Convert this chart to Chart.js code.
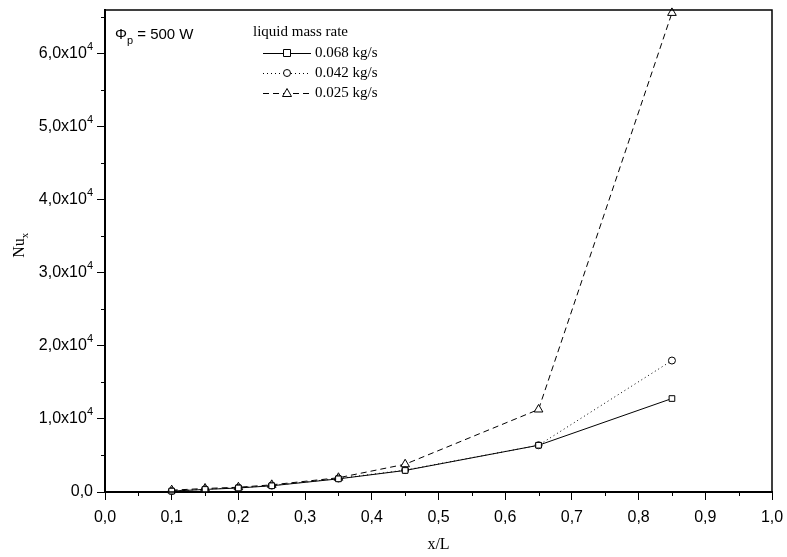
<!DOCTYPE html>
<html>
<head>
<meta charset="utf-8">
<script src="https://cdn.jsdelivr.net/npm/chart.js@4/dist/chart.umd.min.js"></script>
<style>
  html, body { margin: 0; padding: 0; background: #fff; }
  #wrap { width: 787px; height: 557px; }
</style>
</head>
<body>
<div id="wrap"><canvas id="myChart" width="787" height="557"></canvas></div>
<script>
// x/L positions
const xPos = [0.1, 0.15, 0.2, 0.25, 0.35, 0.45, 0.65, 0.85];
// Nu_x for each liquid mass rate
const nu068 = [120, 350, 550, 850, 1800, 2950, 6400, 12800];
const nu042 = [130, 380, 580, 880, 1850, 3000, 6400, 18000];
const nu025 = [250, 480, 650, 980, 1950, 3800, 11300, 65600];
const seriesLabels = ["0.068 kg/s", "0.042 kg/s", "0.025 kg/s"];
const legendTitle = "liquid mass rate";
const powerLabel = "500 W";
// y tick labels (mantissa of x10^4)
const yTickVals = [0, 10000, 20000, 30000, 40000, 50000, 60000];
const yTickText = ["0,0", "1,0", "2,0", "3,0", "4,0", "5,0", "6,0"];

const toPoints = (ys) => xPos.map((x, i) => ({ x: x, y: ys[i] }));
const comma = (v) => v.toFixed(1).replace(".", ",");

const sansFont = "'Liberation Sans', Arial, sans-serif";
const serifFont = "'Liberation Serif', 'Times New Roman', serif";

function drawMarker(ctx, style, x, y) {
  ctx.save();
  ctx.fillStyle = "#fff";
  ctx.strokeStyle = "#000";
  ctx.lineWidth = 1;
  ctx.setLineDash([]);
  ctx.beginPath();
  if (style === "rect") {
    ctx.rect(x - 3.5, y - 3.5, 7, 7);
  } else if (style === "circle") {
    ctx.arc(x, y, 3.5, 0, Math.PI * 2);
  } else {
    ctx.moveTo(x, y - 4.5);
    ctx.lineTo(x + 4.5, y + 3.5);
    ctx.lineTo(x - 4.5, y + 3.5);
    ctx.closePath();
  }
  ctx.fill();
  ctx.stroke();
  ctx.restore();
}

const extras = {
  id: "extras",
  afterDraw(chart) {
    const ctx = chart.ctx;
    const a = chart.chartArea;
    const xs = chart.scales.x;
    const ys = chart.scales.y;
    ctx.save();

    // frame
    ctx.strokeStyle = "#000";
    ctx.lineWidth = 1.5;
    ctx.strokeRect(a.left, a.top, a.right - a.left, a.bottom - a.top);

    // minor ticks
    ctx.lineWidth = 1;
    ctx.beginPath();
    for (let v = 0.05; v < 1; v += 0.1) {
      const px = Math.round(xs.getPixelForValue(v)) + 0.5;
      ctx.moveTo(px, a.bottom);
      ctx.lineTo(px, a.bottom + 4);
    }
    for (let v = 5000; v < ys.max; v += 10000) {
      const py = Math.round(ys.getPixelForValue(v)) + 0.5;
      ctx.moveTo(a.left, py);
      ctx.lineTo(a.left - 4, py);
    }
    ctx.stroke();

    // y tick labels with superscript
    ctx.fillStyle = "#000";
    ctx.textBaseline = "middle";
    ctx.textAlign = "right";
    yTickVals.forEach((v, i) => {
      const py = ys.getPixelForValue(v);
      const right = a.left - 12;
      if (v === 0) {
        ctx.font = "16px " + sansFont;
        ctx.fillText(yTickText[i], right, py);
        return;
      }
      ctx.font = "11px " + sansFont;
      const expW = ctx.measureText("4").width;
      ctx.fillText("4", right, py - 7);
      ctx.font = "16px " + sansFont;
      ctx.fillText(yTickText[i] + "x10", right - expW, py);
    });

    // axis titles
    ctx.textAlign = "center";
    ctx.font = "16px " + serifFont;
    ctx.fillText("x/L", (a.left + a.right) / 2, 545);

    ctx.save();
    ctx.translate(20, 245);
    ctx.rotate(-Math.PI / 2);
    ctx.textAlign = "left";
    ctx.font = "16px " + serifFont;
    const nuW = ctx.measureText("Nu").width;
    const subW = 6;
    ctx.fillText("Nu", -(nuW + subW) / 2, 0);
    ctx.font = "11px " + serifFont;
    ctx.fillText("x", -(nuW + subW) / 2 + nuW, 5);
    ctx.restore();

    // power annotation
    ctx.textAlign = "left";
    ctx.font = "15px " + sansFont;
    ctx.fillText("\u03A6", 115, 35);
    let px = 115 + ctx.measureText("\u03A6").width;
    ctx.font = "11px " + sansFont;
    ctx.fillText("p", px, 41);
    px += ctx.measureText("p").width;
    ctx.font = "15px " + sansFont;
    ctx.fillText(" = " + powerLabel, px, 35);

    // legend
    ctx.font = "15px " + serifFont;
    ctx.fillText(legendTitle, 253, 32);
    const styles = ["rect", "circle", "triangle"];
    const dashes = [[], [1, 3], [6, 4]];
    seriesLabels.forEach((lab, i) => {
      const ly = 53 + i * 20;
      ctx.save();
      ctx.strokeStyle = "#000";
      ctx.lineWidth = 1;
      ctx.setLineDash(dashes[i]);
      ctx.beginPath();
      ctx.moveTo(263, ly + 0.5);
      ctx.lineTo(311, ly + 0.5);
      ctx.stroke();
      ctx.restore();
      drawMarker(ctx, styles[i], 287, ly);
      ctx.fillStyle = "#000";
      ctx.font = "15px " + serifFont;
      ctx.textAlign = "left";
      ctx.fillText(lab, 315, ly);
    });

    ctx.restore();
  }
};

const common = {
  borderColor: "#000",
  borderWidth: 1,
  pointBackgroundColor: "#fff",
  pointBorderColor: "#000",
  pointBorderWidth: 1,
  tension: 0,
  fill: false,
  clip: false
};

new Chart(document.getElementById("myChart").getContext("2d"), {
  type: "line",
  data: {
    datasets: [
      Object.assign({}, common, { label: seriesLabels[0], data: toPoints(nu068), pointStyle: "rect", pointRadius: 4 }),
      Object.assign({}, common, { label: seriesLabels[1], data: toPoints(nu042), pointStyle: "circle", pointRadius: 3.5, borderDash: [1, 3] }),
      Object.assign({}, common, { label: seriesLabels[2], data: toPoints(nu025), pointStyle: "triangle", pointRadius: 5, borderDash: [6, 4] })
    ]
  },
  plugins: [extras],
  options: {
    responsive: false,
    animation: false,
    layout: { padding: { top: 10, right: 15, left: 0, bottom: 0 } },
    plugins: { legend: { display: false }, tooltip: { enabled: false } },
    scales: {
      x: {
        type: "linear",
        min: 0,
        max: 1,
        afterFit: (s) => { s.height = 65; s.paddingLeft = 0; s.paddingRight = 0; },
        border: { color: "#000", width: 2 },
        grid: { drawOnChartArea: false, color: "#000", tickLength: 8, tickWidth: 1 },
        ticks: {
          stepSize: 0.1,
          color: "#000",
          padding: 8,
          maxRotation: 0,
          font: { family: sansFont, size: 16 },
          callback: (v) => comma(v)
        }
      },
      y: {
        type: "linear",
        min: 0,
        max: 66000,
        afterFit: (s) => { s.width = 105; s.paddingTop = 0; s.paddingBottom = 0; },
        afterBuildTicks: (s) => { s.ticks = yTickVals.map((v) => ({ value: v })); },
        border: { color: "#000", width: 2 },
        grid: { drawOnChartArea: false, color: "#000", tickLength: 8, tickWidth: 1 },
        ticks: {
          color: "rgba(0,0,0,0)",
          font: { family: sansFont, size: 15 },
          callback: () => ""
        }
      }
    }
  }
});
</script>
</body>
</html>
